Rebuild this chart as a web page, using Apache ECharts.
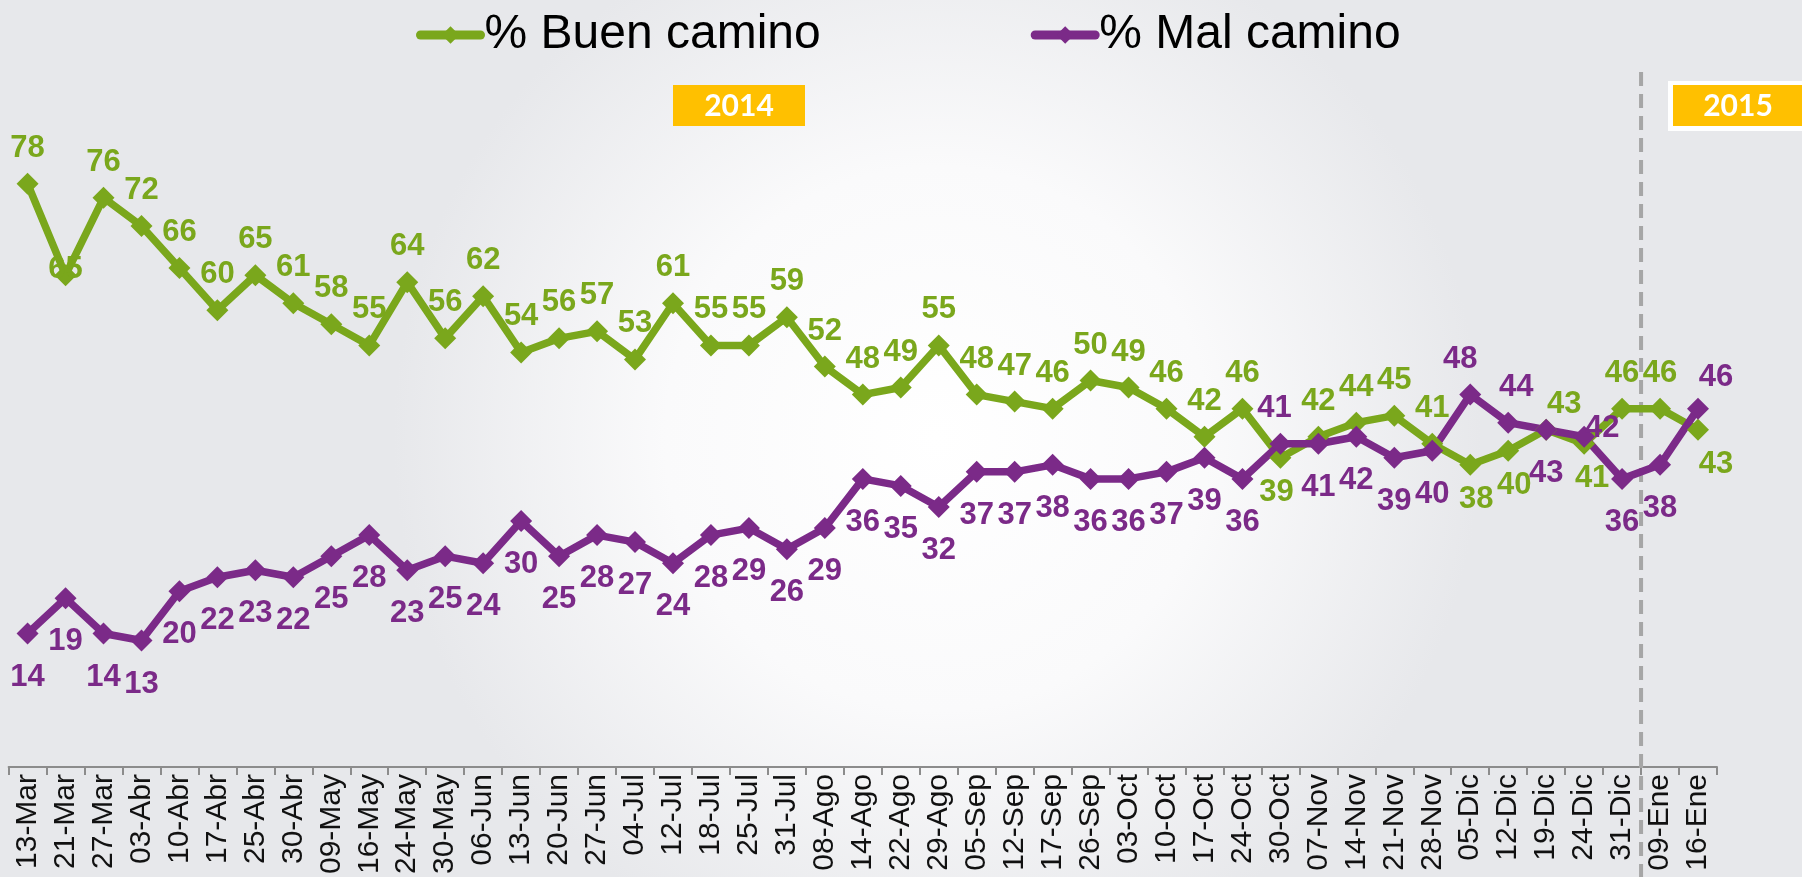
<!DOCTYPE html>
<html>
<head>
<meta charset="utf-8">
<script src="https://cdn.jsdelivr.net/npm/echarts@6/dist/echarts.min.js"></script>
<style>
  html, body { margin: 0; padding: 0; }
  #chart { width: 1802px; height: 877px; }
</style>
</head>
<body>
<div id="chart"></div>
<script>
const fechas = ['13-Mar', '21-Mar', '27-Mar', '03-Abr', '10-Abr', '17-Abr', '25-Abr', '30-Abr', '09-May', '16-May',
  '24-May', '30-May', '06-Jun', '13-Jun', '20-Jun', '27-Jun', '04-Jul', '12-Jul', '18-Jul', '25-Jul',
  '31-Jul', '08-Ago', '14-Ago', '22-Ago', '29-Ago', '05-Sep', '12-Sep', '17-Sep', '26-Sep', '03-Oct',
  '10-Oct', '17-Oct', '24-Oct', '30-Oct', '07-Nov', '14-Nov', '21-Nov', '28-Nov', '05-Dic', '12-Dic',
  '19-Dic', '24-Dic', '31-Dic', '09-Ene', '16-Ene']

const buenCamino = [78, 65, 76, 72, 66, 60, 65, 61, 58, 55, 64, 56, 62, 54, 56, 57, 53, 61, 55, 55,
  59, 52, 48, 49, 55, 48, 47, 46, 50, 49, 46, 42, 46, 39, 42, 44, 45, 41, 38, 40, 43, 41, 46, 46, 43]

const malCamino = [14, 19, 14, 13, 20, 22, 23, 22, 25, 28, 23, 25, 24, 30, 25, 28, 27, 24, 28, 29,
  26, 29, 36, 35, 32, 37, 37, 38, 36, 36, 37, 39, 36, 41, 41, 42, 39, 40, 48, 44, 43, 42, 36, 38, 46]

// index of the first poll of 2015
const inicio2015 = 43

const VERDE = '#7aa71c'
const MORADO = '#7b2a88'

// label placement where it is not the default side: [position, offset]
const buenLabelPos = {
  1: ['inside', [0, -6]],
  33: ['bottom', [-4, 0]],
  38: ['bottom', [6, 0]],
  39: ['bottom', [6, 0]],
  40: ['top', [18, 10]],
  41: ['bottom', [8, 0]],
  44: ['bottom', [18, 0]],
}
const malLabelPos = {
  33: ['top', [-6, 0]],
  38: ['top', [-10, 0]],
  39: ['top', [8, 0]],
  41: ['right', [-16, -8]],
  44: ['top', [18, 4]],
}

const withLabels = (values, posMap, def) =>
  values.map((v, i) => {
    const [pos, offset] = posMap[i] || [def, [0, 0]]
    const distance = pos === 'top' ? 9 : pos === 'bottom' ? (def === 'bottom' ? 17 : 8) : 6
    return { value: v, label: { position: pos, distance, offset } }
  })

const chart = echarts.init(document.getElementById('chart'))

const labelStyle = (color) => ({
  show: true,
  color: color,
  fontFamily: 'Liberation Sans, Arial, sans-serif',
  fontWeight: 'bold',
  fontSize: 31,
})

const option = {
  backgroundColor: {
    type: 'radial',
    x: 0.52,
    y: 0.5,
    r: 0.62,
    colorStops: [
      { offset: 0, color: '#ffffff' },
      { offset: 0.5, color: '#fafafb' },
      { offset: 1, color: '#e7e8eb' },
    ],
  },
  animation: false,
  legend: {
    left: 411,
    top: 6,
    itemWidth: 60,
    itemHeight: 22,
    itemGap: 210,
    lineStyle: { width: 9, cap: 'round' },
    textStyle: {
      fontFamily: 'Liberation Sans, Arial, sans-serif',
      fontSize: 48,
      color: '#000',
      padding: [0, 0, 0, -1],
    },
    data: ['% Buen camino', '% Mal camino'],
  },
  grid: {
    left: 8.6,
    right: 85,
    top: 134.6,
    bottom: 107,
    containLabel: false,
  },
  xAxis: {
    type: 'category',
    data: fechas,
    boundaryGap: true,
    axisLine: { onZero: false, lineStyle: { color: '#8c8c8c', width: 2 } },
    axisTick: { show: true, interval: 0, length: 8, lineStyle: { color: '#8c8c8c', width: 2 } },
    axisLabel: {
      interval: 0,
      rotate: 90,
      margin: 7,
      color: '#111',
      fontFamily: 'Liberation Sans, Arial, sans-serif',
      fontSize: 30,
    },
  },
  yAxis: {
    type: 'value',
    min: -5,
    max: 85,
    show: false,
    splitLine: { show: false },
  },
  series: [
    {
      name: '% Buen camino',
      type: 'line',
      data: withLabels(buenCamino, buenLabelPos, 'top'),
      symbol: 'diamond',
      symbolSize: 22,
      color: VERDE,
      lineStyle: { width: 7.5, color: VERDE },
      itemStyle: { color: VERDE },
      label: labelStyle(VERDE),
    },
    {
      name: '% Mal camino',
      type: 'line',
      data: withLabels(malCamino, malLabelPos, 'bottom'),
      symbol: 'diamond',
      symbolSize: 22,
      color: MORADO,
      lineStyle: { width: 7.5, color: MORADO },
      itemStyle: { color: MORADO },
      label: labelStyle(MORADO),
    },
  ],
}

chart.setOption(option)

// dashed separator between the years and the two year tags
const xa = chart.convertToPixel({ xAxisIndex: 0 }, inicio2015 - 1)
const xb = chart.convertToPixel({ xAxisIndex: 0 }, inicio2015)
const xSep = (xa + xb) / 2

chart.setOption({
  graphic: [
    {
      type: 'line',
      shape: { x1: xSep, y1: 72, x2: xSep, y2: 877 },
      style: { stroke: '#a6a6a6', lineWidth: 4, lineDash: [14, 8] },
      z: 1,
    },
    {
      type: 'group',
      left: 673,
      top: 85,
      children: [
        { type: 'rect', shape: { x: 0, y: 0, width: 132, height: 41 }, style: { fill: '#ffc000' } },
        {
          type: 'text',
          x: 66,
          y: 21,
          style: {
            text: '2014', fill: '#fff', font: 'bold 30px Lato, "Open Sans", sans-serif',
            align: 'center', verticalAlign: 'middle',
          },
        },
      ],
    },
    {
      type: 'group',
      left: 1668,
      top: 81,
      children: [
        { type: 'rect', shape: { x: 0, y: 0, width: 140, height: 50 }, style: { fill: '#ffffff' } },
        { type: 'rect', shape: { x: 5, y: 4, width: 140, height: 41 }, style: { fill: '#ffc000' } },
        {
          type: 'text',
          x: 70,
          y: 25,
          style: {
            text: '2015', fill: '#fff', font: 'bold 30px Lato, "Open Sans", sans-serif',
            align: 'center', verticalAlign: 'middle',
          },
        },
      ],
    },
  ],
})
</script>
</body>
</html>
